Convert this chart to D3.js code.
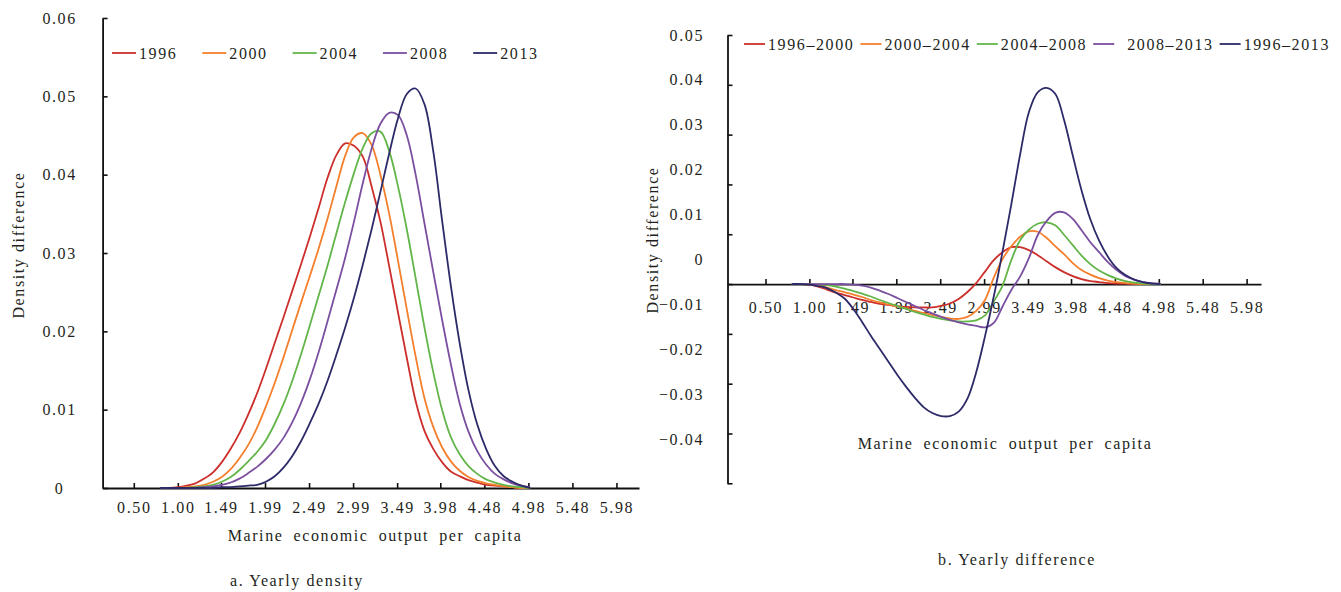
<!DOCTYPE html>
<html><head><meta charset="utf-8">
<script src="https://cdn.jsdelivr.net/npm/d3@7"></script>
<style>
html,body{margin:0;padding:0;background:#fff;}
svg text{font-family:"Liberation Serif","Times New Roman",serif;fill:#231f20;}
</style></head><body>
<svg id="chart" width="1341" height="592"></svg>
<script>
// ---------- data ----------
const xGrid = [0.8,0.9,1.0,1.1,1.2,1.3,1.4,1.5,1.6,1.7,1.8,1.9,2.0,2.1,2.2,2.3,2.4,2.5,2.6,2.7,2.8,2.9,3.0,3.1,3.2,3.3,3.4,3.5,3.6,3.7,3.8,3.9,4.0,4.1,4.2,4.3,4.4,4.5,4.6,4.7,4.8,4.9,5.0];

const densityYears = ["1996","2000","2004","2008","2013"];
const density1996 = [0,0,0.0001,0.0003,0.0006,0.0012,0.0020,0.0033,0.0050,0.0070,0.0094,0.0121,0.0152,0.0185,0.0218,0.0252,0.0286,0.0321,0.0358,0.0396,0.0425,0.0440,0.0437,0.0423,0.0385,0.0340,0.0283,0.0224,0.0166,0.0111,0.0073,0.0050,0.0033,0.0021,0.0015,0.0010,0.0007,0.0004,0.0003,0.0002,0.0001,0,0];
const density2000 = [0,0,0,0.0001,0.0002,0.0004,0.0008,0.0014,0.0024,0.0038,0.0055,0.0077,0.0104,0.0134,0.0167,0.0202,0.0237,0.0271,0.0306,0.0344,0.0385,0.0424,0.0448,0.0453,0.0438,0.0400,0.0350,0.0290,0.0228,0.0168,0.0115,0.0078,0.0052,0.0034,0.0022,0.0014,0.0009,0.0006,0.0004,0.0002,0.0001,0,0];
const density2004 = [0,0,0,0,0.0001,0.0002,0.0004,0.0008,0.0014,0.0023,0.0034,0.0046,0.0061,0.0082,0.0107,0.0137,0.0171,0.0208,0.0246,0.0284,0.0325,0.0365,0.0402,0.0434,0.0453,0.0455,0.0430,0.0385,0.0330,0.0268,0.0205,0.0148,0.0100,0.0065,0.0043,0.0028,0.0018,0.0011,0.0007,0.0004,0.0002,0.0001,0];
const density2008 = [0,0,0,0,0,0.0001,0.0002,0.0004,0.0007,0.0012,0.0019,0.0027,0.0037,0.0049,0.0064,0.0084,0.0109,0.0139,0.0174,0.0213,0.0253,0.0294,0.0340,0.0389,0.0433,0.0465,0.0479,0.0476,0.0450,0.0400,0.0338,0.0276,0.0215,0.0158,0.0108,0.0072,0.0047,0.0030,0.0018,0.0011,0.0006,0.0003,0.0001];
const density2013 = [0,0,0,0,0,0,0,0.0001,0.0001,0.0002,0.0003,0.0004,0.0008,0.0015,0.0026,0.0041,0.0060,0.0083,0.0108,0.0137,0.0170,0.0205,0.0243,0.0285,0.0330,0.0378,0.0427,0.0472,0.0503,0.0510,0.0490,0.0430,0.0342,0.0258,0.0185,0.0125,0.0081,0.0050,0.0028,0.0015,0.0008,0.0003,0];

const diffPeriods = ["1996–2000","2000–2004","2004–2008","2008–2013","1996–2013"];
const diff9600 = [0,0,-0.0001,-0.0005,-0.0011,-0.0017,-0.0022,-0.0027,-0.0032,-0.0036,-0.0040,-0.0042,-0.0044,-0.0046,-0.0047,-0.0047,-0.0047,-0.0044,-0.0039,-0.0030,-0.0016,0.0002,0.0025,0.0048,0.0064,0.0074,0.0074,0.0068,0.0058,0.0046,0.0034,0.0024,0.0016,0.0010,0.0006,0.0004,0.0002,0.0001,0.0001,0,0,0,0];
const diff0004 = [0,0,0,-0.0003,-0.0007,-0.0012,-0.0016,-0.0021,-0.0026,-0.0032,-0.0037,-0.0041,-0.0045,-0.0049,-0.0054,-0.0058,-0.0062,-0.0066,-0.0069,-0.0070,-0.0066,-0.0054,-0.0032,0.0013,0.0050,0.0076,0.0095,0.0106,0.0105,0.0093,0.0076,0.0060,0.0042,0.0028,0.0019,0.0012,0.0007,0.0004,0.0002,0.0001,0,0,0];
const diff0408 = [0,0,0,-0.0001,-0.0002,-0.0005,-0.0009,-0.0014,-0.0019,-0.0025,-0.0032,-0.0038,-0.0044,-0.0050,-0.0056,-0.0061,-0.0066,-0.0070,-0.0073,-0.0075,-0.0075,-0.0073,-0.0063,-0.0035,-0.0003,0.0048,0.0088,0.0109,0.0121,0.0124,0.0118,0.0099,0.0078,0.0057,0.0040,0.0027,0.0018,0.0011,0.0006,0.0003,0.0001,0,0];
const diff0813 = [0,0,0,0,0,0,0,-0.0001,-0.0003,-0.0007,-0.0013,-0.0020,-0.0028,-0.0036,-0.0044,-0.0052,-0.0059,-0.0066,-0.0072,-0.0077,-0.0081,-0.0084,-0.0087,-0.0078,-0.0045,-0.0012,0.0015,0.0052,0.0098,0.0126,0.0143,0.0144,0.0131,0.0108,0.0084,0.0064,0.0044,0.0028,0.0016,0.0009,0.0004,0.0002,0.0001];
const diff9613 = [0,0,-0.0001,-0.0004,-0.0008,-0.0017,-0.0029,-0.0050,-0.0076,-0.0104,-0.0130,-0.0156,-0.0182,-0.0206,-0.0228,-0.0247,-0.0259,-0.0265,-0.0265,-0.0256,-0.0230,-0.0177,-0.0105,-0.0025,0.0065,0.0160,0.0260,0.0345,0.0385,0.0394,0.0382,0.0330,0.0258,0.0188,0.0130,0.0087,0.0055,0.0032,0.0018,0.0009,0.0004,0.0001,0];

const xTickValues = [0.50,1.00,1.49,1.99,2.49,2.99,3.49,3.98,4.48,4.98,5.48,5.98];
const densityTicks = [0,0.01,0.02,0.03,0.04,0.05,0.06];
const densityTickLabels = ["0","0.01","0.02","0.03","0.04","0.05","0.06"];
const diffTicks = [-0.04,-0.03,-0.02,-0.01,0,0.01,0.02,0.03,0.04,0.05];
const diffTickLabels = ["\u22120.04","\u22120.03","\u22120.02","\u22120.01","0","0.01","0.02","0.03","0.04","0.05"];
const seriesColors = ["#cc2f2b","#f47f2c","#62b548","#7b4fa0","#2c2a68"];

const xTitle = "Marine economic output per capita";
const yTitle = "Density difference";

// ---------- drawing ----------
const svg = d3.select("#chart");
const font = 16, ls = 1.6;
const line = (xs, ys) => d3.line().x((d,i)=>xs(xGrid[i])).y(d=>ys(d)).curve(d3.curveCatmullRom.alpha(0.5));

function styleAxis(g){
  g.select(".domain").attr("stroke","#111").attr("stroke-width",1.8);
  g.selectAll(".tick line").attr("stroke","#111").attr("stroke-width",1.6);
  g.selectAll("text").attr("font-size",font).attr("letter-spacing",ls).attr("fill","#231f20")
    .attr("font-family","Liberation Serif, Times New Roman, serif");
}

// ===== Panel a =====
const xL = d3.scaleLinear().domain([0.146, 6.236]).range([102.6, 639]);
const yL = d3.scaleLinear().domain([0, 0.06]).range([488, 18]);

const gxL = svg.append("g").attr("transform",`translate(0,${yL(0)})`)
  .call(d3.axisBottom(xL).tickValues(xTickValues).tickFormat(d3.format(".2f"))
    .tickSizeInner(-5).tickSizeOuter(0).tickPadding(14));
styleAxis(gxL);

const gyL = svg.append("g").attr("transform",`translate(${xL.range()[0]},0)`)
  .call(d3.axisLeft(yL).tickValues(densityTicks).tickFormat((d,i)=>densityTickLabels[i])
    .tickSizeInner(-5).tickSizeOuter(0));
styleAxis(gyL);
gyL.selectAll("text").attr("text-anchor","middle").attr("x",-43);

const densitySeries = [density1996,density2000,density2004,density2008,density2013];
densitySeries.forEach((s,i)=>{
  svg.append("path").datum(s).attr("fill","none").attr("stroke",seriesColors[i])
    .attr("stroke-width",1.8).attr("d",line(xL,yL));
});

// legend a
densityYears.forEach((t,i)=>{
  const x0 = 112 + i*90.3;
  svg.append("line").attr("x1",x0).attr("x2",x0+24).attr("y1",53).attr("y2",53)
    .attr("stroke",seriesColors[i]).attr("stroke-width",1.8);
  svg.append("text").attr("x",x0+27).attr("y",53).attr("dy","0.35em")
    .attr("font-size",font).attr("letter-spacing",ls).text(t);
});

svg.append("text").attr("x",375).attr("y",535).attr("dy","0.35em").attr("text-anchor","middle")
  .attr("font-size",font).attr("letter-spacing",ls).attr("word-spacing",4.5).text(xTitle);
svg.append("text").attr("transform","translate(18,245) rotate(-90)").attr("dy","0.35em")
  .attr("text-anchor","middle").attr("font-size",font).attr("letter-spacing",ls).text(yTitle);
svg.append("text").attr("x",297).attr("y",580).attr("dy","0.35em").attr("text-anchor","middle")
  .attr("font-size",font).attr("letter-spacing",ls).text("a. Yearly density");

// ===== Panel b =====
const xR = d3.scaleLinear().domain([0.067, 6.144]).range([727.5, 1261]);
const yR = d3.scaleLinear().domain([-0.04, 0.05]).range([483.3, 35]);
const yRLabel = d3.scaleLinear().domain([-0.04, 0.05]).range([439, 35]);

const gyR = svg.append("g").attr("transform",`translate(${xR.range()[0]},0)`)
  .call(d3.axisLeft(yR).tickValues(diffTicks).tickFormat("").tickSizeInner(-5).tickSizeOuter(0));
styleAxis(gyR);
svg.append("g").selectAll("text").data(diffTicks).join("text")
  .attr("x",704).attr("y",d=>yRLabel(d)).attr("dy","0.35em").attr("text-anchor","end")
  .attr("font-size",font).attr("letter-spacing",ls).text((d,i)=>diffTickLabels[i]);

const gxR = svg.append("g").attr("transform",`translate(0,${yR(0)})`)
  .call(d3.axisBottom(xR).tickValues(xTickValues).tickFormat(d3.format(".2f"))
    .tickSizeInner(-5).tickSizeOuter(0).tickPadding(18));
styleAxis(gxR);

const diffSeries = [diff9600,diff0004,diff0408,diff0813,diff9613];
diffSeries.forEach((s,i)=>{
  svg.append("path").datum(s).attr("fill","none").attr("stroke",seriesColors[i])
    .attr("stroke-width",1.8).attr("d",line(xR,yR));
});

// legend b
let lx = 744;
diffPeriods.forEach((t,i)=>{
  const lead = (i===3 ? 10 : 0);
  svg.append("line").attr("x1",lx).attr("x2",lx+21).attr("y1",44).attr("y2",44)
    .attr("stroke",seriesColors[i]).attr("stroke-width",1.8);
  const txt = svg.append("text").attr("x",lx+24+lead).attr("y",44).attr("dy","0.35em")
    .attr("font-size",font).attr("letter-spacing",ls).text(t);
  lx = lx + 24 + lead + txt.node().getComputedTextLength() + 6;
});

svg.append("text").attr("x",1005).attr("y",443).attr("dy","0.35em").attr("text-anchor","middle")
  .attr("font-size",font).attr("letter-spacing",ls).attr("word-spacing",4.5).text(xTitle);
svg.append("text").attr("transform","translate(652,240) rotate(-90)").attr("dy","0.35em")
  .attr("text-anchor","middle").attr("font-size",font).attr("letter-spacing",ls).text(yTitle);
svg.append("text").attr("x",1017).attr("y",559).attr("dy","0.35em").attr("text-anchor","middle")
  .attr("font-size",font).attr("letter-spacing",ls).text("b. Yearly difference");
</script>
</body></html>
